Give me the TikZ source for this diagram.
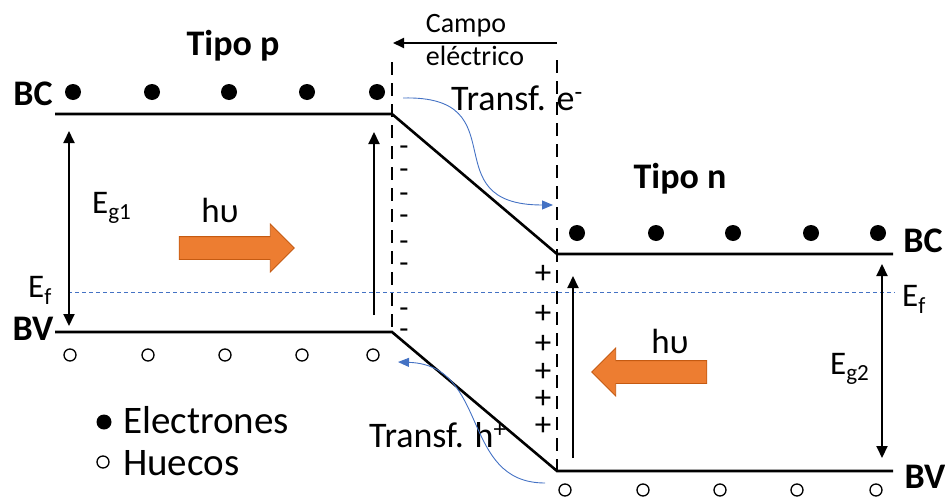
\documentclass[tikz,border=0pt]{standalone}
\usepackage{fontspec}
\setmainfont{Carlito}
\usepackage{xcolor}
\usepackage{tikz}
\usetikzlibrary{arrows.meta, positioning, shapes.arrows}
\definecolor{jorange}{HTML}{ED7D31}
\definecolor{jorangedk}{HTML}{C55A11}
\definecolor{jblue}{HTML}{4472C4}

\tikzset{
  band/.style={line width=2.6pt},
  junction/.style={line width=2.6pt, dash pattern=on 13pt off 8pt},
  elec/.style={circle, fill=black, inner sep=0pt, minimum size=16pt},
  hole/.style={circle, draw=black, line width=1.3pt, inner sep=0pt, minimum size=12pt},
  gaptip/.style={-{Triangle[length=12pt, width=11pt]}, line width=2pt},
  gapboth/.style={{Triangle[length=12pt, width=11pt]}-{Triangle[length=12pt, width=11pt]}, line width=2pt},
  transfer/.style={jblue, line width=0.9pt, -{Triangle[length=11pt, width=9pt]}},
  photon/.style={single arrow, fill=jorange, draw=jorangedk, line width=0.8pt,
    minimum height=115pt, minimum width=47pt, single arrow head extend=12.5pt,
    inner xsep=0pt, inner ysep=11pt},
  txt/.style={inner sep=0pt, anchor=base, font=\fontsize{33}{36}\selectfont},
  boldtxt/.style={txt, font=\fontsize{36}{40}\selectfont\bfseries},
  charge/.style={inner sep=0pt, anchor=base, font=\fontsize{30}{30}\selectfont}
}

\begin{document}
\begin{tikzpicture}[x=1pt, y=-1pt]
\useasboundingbox (0,0) rectangle (945,498);

% band edges
\coordinate (pBCl) at (55,114);  \coordinate (pBCr) at (392,114);
\coordinate (nBCl) at (557,254); \coordinate (nBCr) at (893,254);
\coordinate (pBVl) at (55,332);  \coordinate (pBVr) at (392,332);
\coordinate (nBVl) at (557,471); \coordinate (nBVr) at (893,471);
\draw[band] (pBCl) -- (pBCr) -- (nBCl) -- (nBCr);
\draw[band] (pBVl) -- (pBVr) -- (nBVl) -- (nBVr);

% depletion region borders
\coordinate (jLtop) at (392,62);  \coordinate (jLbot) at (392,332);
\coordinate (jRtop) at (557,60);  \coordinate (jRbot) at (557,471);
\draw[junction] (jLtop) -- (jLbot);
\draw[junction] (jRtop) -- (jRbot);

% Fermi level
\coordinate (efL) at (68,292); \coordinate (efR) at (895,292);
\draw[jblue, line width=0.7pt, dash pattern=on 4pt off 3pt] (efL) -- (efR);

% field arrow
\coordinate (fieldR) at (557,43); \coordinate (fieldL) at (393,43);
\draw[-{Triangle[length=11pt, width=10pt]}, line width=1.8pt] (fieldR) -- (fieldL);
\node[txt, font=\fontsize{28}{30}\selectfont] (campo) at (466,32) {Campo};
\node[txt, font=\fontsize{28}{30}\selectfont] (electrico) at (475,65) {eléctrico};

% electrons and holes
\foreach \x [count=\i] in {73,152,229,307,377}
  \node[elec] (eP\i) at (\x,92) {};
\foreach \x [count=\i] in {577,656,733,811,878}
  \node[elec] (eN\i) at (\x,233) {};
\foreach \x [count=\i] in {70,148,225,302,373}
  \node[hole] (hP\i) at (\x,355) {};
\foreach \x [count=\i] in {565,643,720,797,876}
  \node[hole] (hN\i) at (\x,490) {};

% fixed charges
\foreach \y [count=\i] in {147,170,194,216,242,264,309,330}
  \node[charge] (neg\i) at (404,\y+8) {-};
\foreach \y [count=\i] in {272,312,342,370,397,424}
  \node[charge, font=\fontsize{33}{33}\selectfont] (pos\i) at (543,\y+11) {+};

% band labels
\node[boldtxt] (tipoP) at (233,55) {Tipo p};
\node[boldtxt] (tipoN) at (680,188) {Tipo n};
\node[boldtxt] (bcP) at (33,105) {BC};
\node[boldtxt] (bvP) at (33,340) {BV};
\node[boldtxt] (bcN) at (923,252) {BC};
\node[boldtxt] (bvN) at (925,488) {BV};

% gaps
\coordinate (g1top) at (69,131); \coordinate (g1bot) at (69,326);
\draw[gapboth] (g1top) -- (g1bot);
\coordinate (exPbot) at (374,315); \coordinate (exPtop) at (374,132);
\draw[gaptip] (exPbot) -- (exPtop);
\coordinate (exNbot) at (573,458); \coordinate (exNtop) at (573,276);
\draw[gaptip] (exNbot) -- (exNtop);
\coordinate (g2top) at (882,264); \coordinate (g2bot) at (882,458);
\draw[gapboth] (g2top) -- (g2bot);

\node[txt, anchor=base west] (eg1) at (92,213) {E\textsubscript{g1}};
\node[txt, anchor=base west] (eg2) at (830,374) {E\textsubscript{g2}};
\node[txt, anchor=base west] (efLbl) at (28,297) {E\textsubscript{f}};
\node[txt, anchor=base west] (efRbl) at (902,306) {E\textsubscript{f}};

% light
\node[photon] (lightP) at (231,248) {};
\node[txt, font=\fontsize{35}{38}\selectfont] (hvP) at (220,222) {hυ};
\node[photon, shape border rotate=180] (lightN) at (655,372) {};
\node[txt, font=\fontsize{35}{38}\selectfont] (hvN) at (670,353) {hυ};

% carrier transfer
\node[txt, anchor=base west, font=\fontsize{36}{40}\selectfont] (trE) at (451,110) {Transf. e\textsuperscript{-}};
\node[txt, anchor=base west, font=\fontsize{36}{40}\selectfont] (trH) at (369,447) {Transf. h\textsuperscript{+}};
\coordinate (eFrom) at (403,98);  \coordinate (eTo) at (553,205);
\draw[transfer] (eFrom) .. controls (520,95) and (430,205) .. (eTo);
\coordinate (hFrom) at (545,483); \coordinate (hTo) at (398,362);
\draw[transfer] (hFrom) .. controls (460,483) and (490,365) .. (hTo);

% legend
\node[elec, minimum size=15pt] (keyE) at (104,422) {};
\node[txt, anchor=base west, font=\fontsize{39}{42}\selectfont] (keyEtxt) at (123,433) {Electrones};
\node[hole, minimum size=12pt] (keyH) at (103,462) {};
\node[txt, anchor=base west, font=\fontsize{39}{42}\selectfont] (keyHtxt) at (123,475) {Huecos};
\end{tikzpicture}
\end{document}
